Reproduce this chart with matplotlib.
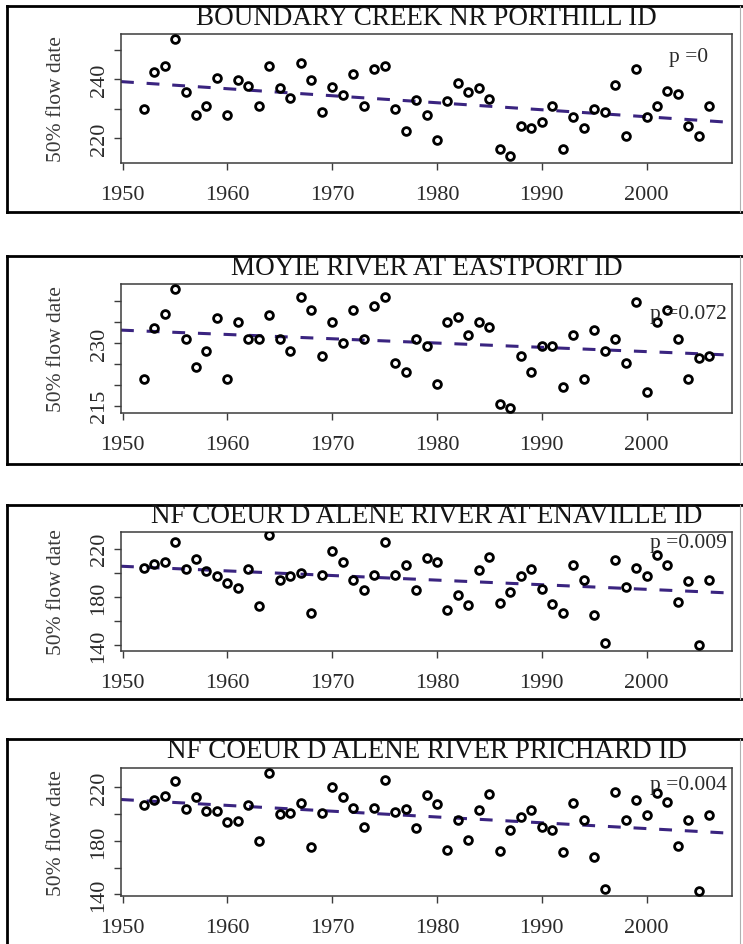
import matplotlib
matplotlib.use("Agg")
import matplotlib.pyplot as plt
from matplotlib.lines import Line2D

plt.rcParams["font.family"] = ["Liberation Serif", "DejaVu Serif"]

# ── data ─────────────────────────────────────────────────────────
years = list(range(1952, 2007))

titles = [
    "BOUNDARY CREEK NR PORTHILL ID",
    "MOYIE RIVER AT EASTPORT ID",
    "NF COEUR D ALENE RIVER AT ENAVILLE ID",
    "NF COEUR D ALENE RIVER PRICHARD ID",
]

boundary = [230, 242.5, 244.3, 253.6, 235.7, 227.8, 231, 240.4, 227.8, 239.7,
            237.5, 231, 244.5, 236.8, 233.5, 245.4, 239.7, 228.9, 237.2, 234.6,
            241.7, 231, 243.3, 244.5, 229.8, 222.2, 233, 227.8, 219.4, 232.7,
            238.6, 235.7, 236.8, 233.2, 216.3, 214, 224.2, 223.3, 225.5, 230.7,
            216.3, 227, 223.3, 230, 228.7, 238, 220.6, 243.4, 227, 231,
            236, 234.9, 224.2, 220.6, 231]

moyie = [221.4, 233.6, 236.9, 243, 231, 224.3, 228.2, 236, 221.4, 235,
         231, 231, 236.8, 231.1, 228.2, 241, 237.9, 227, 235, 230,
         237.9, 231.1, 238.8, 241, 225.1, 223.1, 231.1, 229.2, 220.2, 235,
         236.2, 231.9, 235.1, 233.8, 215.4, 214.3, 227, 223.1, 229.2, 229.2,
         219.4, 231.9, 221.4, 233.2, 228.2, 231.1, 225.1, 239.9, 218.2, 235,
         237.9, 231.1, 221.4, 226.3, 227]

enaville = [204.3, 207, 209, 225.5, 203.4, 211.2, 201.2, 197.4, 191.6, 187.7,
            203.4, 172.6, 231, 193.8, 197.4, 200.1, 166.8, 197.9, 218.1, 209,
            193.8, 185.5, 198, 225.5, 198.5, 206.2, 186.1, 212.3, 209, 169,
            181.9, 173.1, 202.1, 213.1, 175, 184.1, 197.4, 203.4, 186.3, 174.5,
            167, 206.2, 194.3, 164.8, 142.2, 210.9, 188.3, 204, 197.4, 215,
            206.2, 175.9, 193, 140, 194.3]

prichard = [207.1, 210.6, 213.8, 224.5, 203.9, 212.5, 202.1, 202.1, 193.9, 194.7,
            207.1, 179.8, 230.4, 200.1, 200.6, 208.1, 175.3, 200.9, 220, 212.5,
            204.6, 190.2, 204.6, 225.5, 201.9, 203.9, 189.4, 214.3, 207.6, 173.5,
            195.2, 180.7, 203.1, 215, 172.3, 188.2, 197.6, 203.1, 190.7, 188.2,
            171.6, 208.1, 195.2, 167.8, 144.2, 216.3, 195.2, 210.6, 199.4, 215.5,
            209.3, 176, 195.2, 142.5, 199.4]

series = [boundary, moyie, enaville, prichard]

p_labels = ["p =0", "p =0.072", "p =0.009", "p =0.004"]

# trend line: value at 1950 and slope per year
trend_1950 = [239.1, 233.1, 205.4, 210.8]
trend_slope = [-0.238, -0.103, -0.381, -0.433]

x_ticks = [1950, 1960, 1970, 1980, 1990, 2000]
y_ticks = [
    [220, 230, 240, 250],
    [215, 220, 225, 230, 235, 240],
    [140, 160, 180, 200, 220],
    [140, 160, 180, 200, 220],
]
y_ticklabels = [
    ["220", "", "240", ""],
    ["215", "", "", "230", "", ""],
    ["140", "", "180", "", "220"],
    ["140", "", "180", "", "220"],
]

# ── layout (pixels, y measured from top) ─────────────────────────
W, H = 743, 945
# frame top, frame bottom, axes top, axes bottom, title baseline
layout = [
    (7, 213, 35, 164, 25),
    (257, 465, 285, 414, 275),
    (506, 700, 533, 652, 523),
    (740, 960, 769, 897, 758),
]
ax_left, ax_right = 121, 732
ylims = [(211.5, 255.3), (213.2, 244.2), (135.3, 233.8), (138.8, 234.4)]
p_y = [247.7, 237.2, 225.5, 222.0]
p_x = 2004

line_color = "#3a2480"
text_color = "#2a2a2a"
axis_color = "#3c3c3c"

fig = plt.figure(figsize=(W / 100, H / 100), dpi=100)
fig.patch.set_facecolor("white")


def fx(px):
    return px / W


def fy(py):
    return 1 - py / H


for i in range(4):
    f_top, f_bot, a_top, a_bot, t_y = layout[i]

    # outer frame of each panel
    for xs, ys, c, lw in [((7, 743), (f_top, f_top), "black", 2.0),
                          ((7, 7), (f_top, f_bot), "black", 2.0),
                          ((7, 743), (f_bot, f_bot), "black", 2.0),
                          ((740, 740), (f_top, f_bot), "#b0b0b0", 0.8)]:
        fig.add_artist(Line2D([fx(x) for x in xs], [fy(y) for y in ys],
                              transform=fig.transFigure, color=c, lw=lw))

    ax = fig.add_axes([fx(ax_left), fy(a_bot), fx(ax_right - ax_left),
                       (a_bot - a_top) / H])
    ax.set_facecolor("white")

    ax.plot(years, series[i], linestyle="none", marker="o", markersize=5.6,
            markerfacecolor="none", markeredgecolor="black",
            markeredgewidth=2.0, zorder=3)
    ax.axline((1950, trend_1950[i]), slope=trend_slope[i], color=line_color,
              lw=2.2, dashes=(4.2, 4.2), zorder=2)

    ax.text(p_x, p_y[i], p_labels[i], ha="center", va="center",
            fontsize=15.5, color=text_color, zorder=4)

    ax.set_xlim(1949.84, 2008.16)
    ax.set_ylim(*ylims[i])
    ax.set_xticks(x_ticks)
    ax.set_xticklabels([str(x) for x in x_ticks])
    ax.set_yticks(y_ticks[i])
    ax.set_yticklabels(y_ticklabels[i], rotation=90, va="center")

    ax.tick_params(axis="both", direction="out", length=5, width=1.0,
                   colors=axis_color, labelcolor=text_color, labelsize=16)
    ax.tick_params(axis="x", pad=11)
    ax.tick_params(axis="y", pad=4)
    for sp in ax.spines.values():
        sp.set_color(axis_color)
        sp.set_linewidth(1.1)

    ax.set_ylabel("50% flow date", fontsize=15.5, color="#3a3a3a")
    ax.yaxis.set_label_coords((66 - ax_left) / (ax_right - ax_left), 0.5)

    fig.text(fx((ax_left + ax_right) / 2), fy(t_y), titles[i], ha="center",
             va="baseline", fontsize=19.5, color="#141414")

fig.savefig("out.png", dpi=100)
